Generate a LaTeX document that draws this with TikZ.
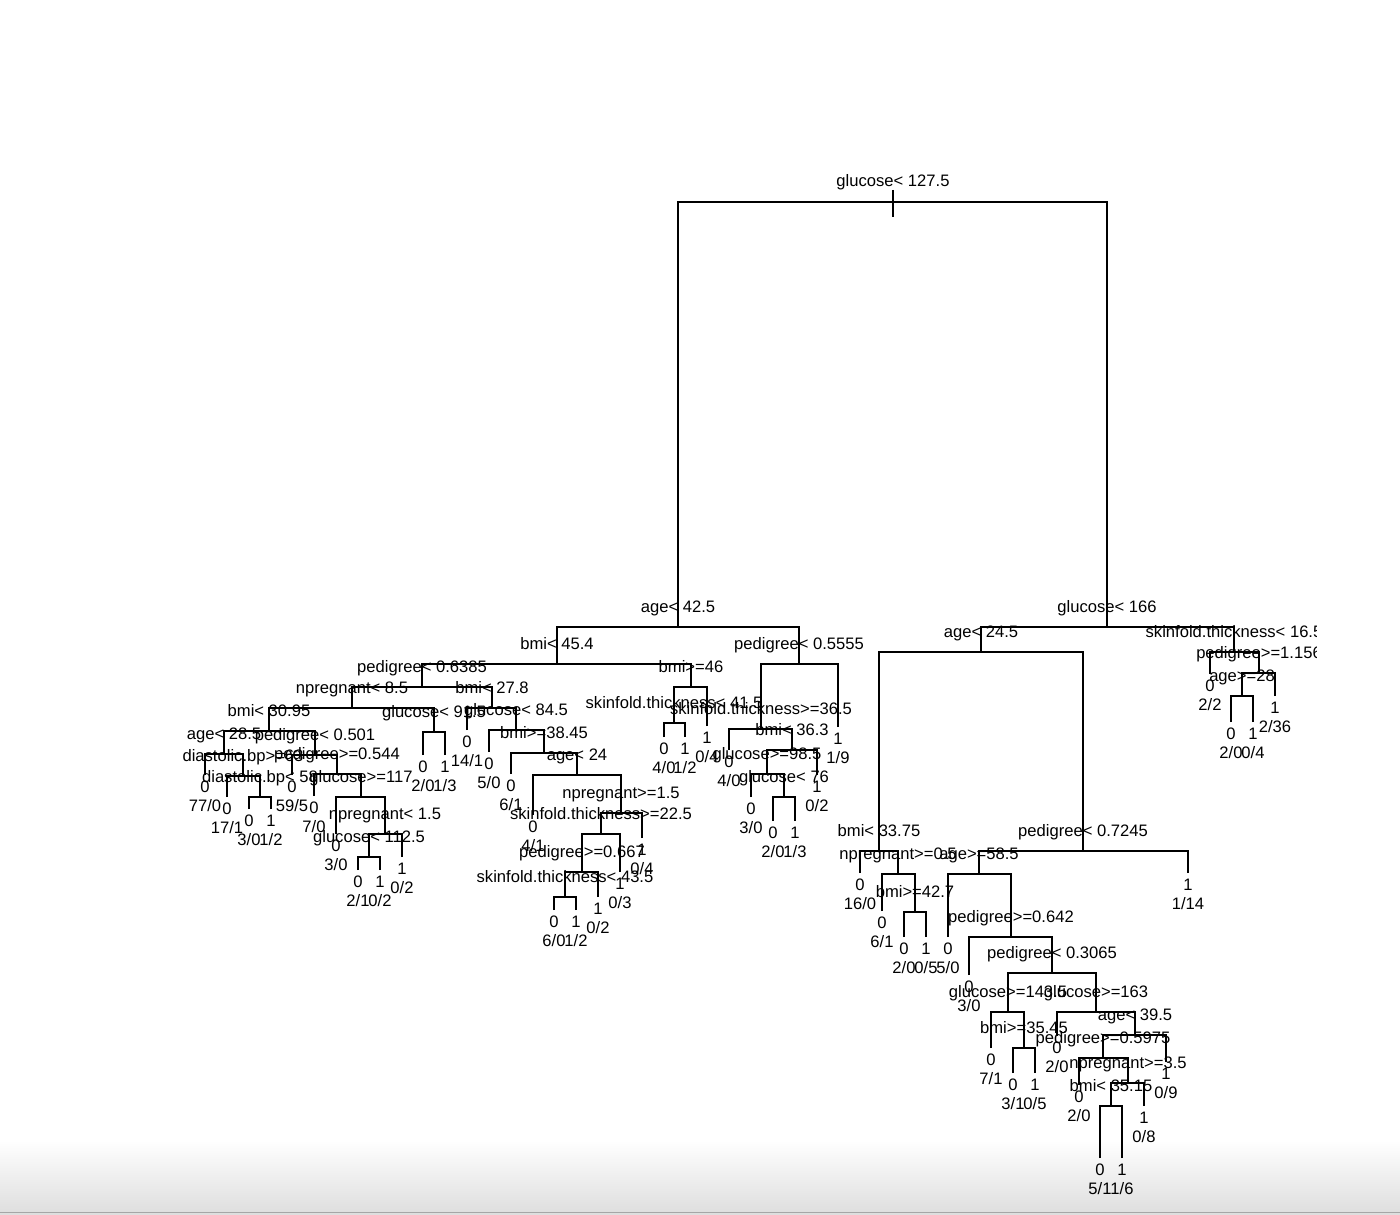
\documentclass[tikz,border=0pt]{standalone}
\usepackage{fontspec}
\setmainfont{Liberation Sans}
\usetikzlibrary{positioning}

\tikzset{
  branch/.style={line width=1pt},
  splitlab/.style={anchor=base, inner sep=0pt, font=\fontsize{8.3}{9}\selectfont},
  leaflab/.style={anchor=base, inner sep=0pt, font=\fontsize{8.3}{9}\selectfont},
}
% split: name, x, y, test
\newcommand{\splitat}[4]{\coordinate (#1) at (#2,#3); \node[splitlab] (#1-lab) at (#2,#3-15) {#4};}
% leaf: name, x, y, class, counts
\newcommand{\leafat}[5]{\coordinate (#1) at (#2,#3);
  \node[leaflab] (#1-cls) at (#2,#3+17) {#4};
  \node[leaflab] (#1-n) at (#2,#3+36) {#5};}

\begin{document}
\begin{tikzpicture}[x=0.5pt,y=-0.5pt]
\useasboundingbox (0,0) rectangle (1400,1214);
\shade[top color=white, bottom color=black!13] (0,1140) rectangle (1400,1214);
\draw[black!35] (0,1212) -- (1400,1212);

\begin{scope}
\clip (0,0) rectangle (1316,1214);
% splits
\splitat{root}{893}{202}{glucose< 127.5}
\splitat{age425}{678}{627}{age< 42.5}
\splitat{glu166}{1107}{627}{glucose< 166}
\splitat{bmi454}{557}{664}{bmi< 45.4}
\splitat{ped5555}{799}{664}{pedigree< 0.5555}
\splitat{ped6385}{422}{687}{pedigree< 0.6385}
\splitat{bmi46}{691}{687}{bmi>=46}
\splitat{npr85}{352}{708}{npregnant< 8.5}
\splitat{bmi278}{492}{708}{bmi< 27.8}
\splitat{bmi3095}{269}{731}{bmi< 30.95}
\splitat{glu915}{434}{732}{glucose< 91.5}
\splitat{age285}{224}{754}{age< 28.5}
\splitat{ped501}{315}{755}{pedigree< 0.501}
\splitat{dbp63}{243}{776}{diastolic.bp>=63}
\splitat{dbp58}{260}{797}{diastolic.bp< 58}
\splitat{ped544}{337}{774}{pedigree>=0.544}
\splitat{glu117}{361}{797}{glucose>=117}
\splitat{npr15}{385}{834}{npregnant< 1.5}
\splitat{glu1125}{369}{857}{glucose< 112.5}
\splitat{glu845}{516}{730}{glucose< 84.5}
\splitat{bmi3845}{544}{753}{bmi>=38.45}
\splitat{age24}{577}{775}{age< 24}
\splitat{npr15b}{621}{813}{npregnant>=1.5}
\splitat{skin225}{601}{834}{skinfold.thickness>=22.5}
\splitat{ped667}{582}{872}{pedigree>=0.667}
\splitat{skin435}{565}{897}{skinfold.thickness< 43.5}
\splitat{skin415}{674}{723}{skinfold.thickness< 41.5}
\splitat{skin365}{761}{729}{skinfold.thickness>=36.5}
\splitat{bmi363}{792}{750}{bmi< 36.3}
\splitat{glu985}{767}{774}{glucose>=98.5}
\splitat{glu76}{784}{797}{glucose< 76}
\splitat{age245}{981}{652}{age< 24.5}
\splitat{skin165}{1234}{652}{skinfold.thickness< 16.5}
\splitat{ped1156}{1259}{673}{pedigree>=1.156}
\splitat{age28}{1242}{696}{age>=28}
\splitat{bmi3375}{879}{851}{bmi< 33.75}
\splitat{ped7245}{1083}{851}{pedigree< 0.7245}
\splitat{npr05}{898}{874}{npregnant>=0.5}
\splitat{bmi427}{915}{912}{bmi>=42.7}
\splitat{age585}{979}{874}{age>=58.5}
\splitat{ped642}{1011}{937}{pedigree>=0.642}
\splitat{ped3065}{1052}{973}{pedigree< 0.3065}
\splitat{glu1435}{1008}{1012}{glucose>=143.5}
\splitat{glu163}{1096}{1012}{glucose>=163}
\splitat{bmi3545}{1024}{1048}{bmi>=35.45}
\splitat{age395}{1135}{1035}{age< 39.5}
\splitat{ped5975}{1103}{1058}{pedigree>=0.5975}
\splitat{npr35}{1128}{1083}{npregnant>=3.5}
\splitat{bmi3515}{1111}{1106}{bmi< 35.15}

% leaves
\leafat{l1}{205}{775}{0}{77/0}
\leafat{l2}{227}{797}{0}{17/1}
\leafat{l3}{249}{809}{0}{3/0}
\leafat{l4}{271}{809}{1}{1/2}
\leafat{l5}{292}{775}{0}{59/5}
\leafat{l6}{314}{796}{0}{7/0}
\leafat{l7}{336}{834}{0}{3/0}
\leafat{l8}{358}{870}{0}{2/1}
\leafat{l9}{380}{870}{1}{0/2}
\leafat{l10}{402}{857}{1}{0/2}
\leafat{l11}{423}{755}{0}{2/0}
\leafat{l12}{445}{755}{1}{1/3}
\leafat{l13}{467}{730}{0}{14/1}
\leafat{l14}{489}{752}{0}{5/0}
\leafat{l15}{511}{774}{0}{6/1}
\leafat{l16}{533}{815}{0}{4/1}
\leafat{l17}{554}{910}{0}{6/0}
\leafat{l18}{576}{910}{1}{1/2}
\leafat{l19}{598}{897}{1}{0/2}
\leafat{l20}{620}{872}{1}{0/3}
\leafat{l21}{642}{838}{1}{0/4}
\leafat{l22}{664}{737}{0}{4/0}
\leafat{l23}{685}{737}{1}{1/2}
\leafat{l24}{707}{726}{1}{0/4}
\leafat{l25}{729}{750}{0}{4/0}
\leafat{l26}{751}{797}{0}{3/0}
\leafat{l27}{773}{821}{0}{2/0}
\leafat{l28}{795}{821}{1}{1/3}
\leafat{l29}{817}{775}{1}{0/2}
\leafat{l30}{838}{727}{1}{1/9}
\leafat{l31}{860}{873}{0}{16/0}
\leafat{l32}{882}{911}{0}{6/1}
\leafat{l33}{904}{937}{0}{2/0}
\leafat{l34}{926}{937}{1}{0/5}
\leafat{l35}{948}{937}{0}{5/0}
\leafat{l36}{969}{975}{0}{3/0}
\leafat{l37}{991}{1048}{0}{7/1}
\leafat{l38}{1013}{1073}{0}{3/1}
\leafat{l39}{1035}{1073}{1}{0/5}
\leafat{l40}{1057}{1036}{0}{2/0}
\leafat{l41}{1079}{1085}{0}{2/0}
\leafat{l42}{1100}{1158}{0}{5/1}
\leafat{l43}{1122}{1158}{1}{1/6}
\leafat{l44}{1144}{1106}{1}{0/8}
\leafat{l45}{1166}{1062}{1}{0/9}
\leafat{l46}{1188}{873}{1}{1/14}
\leafat{l47}{1210}{674}{0}{2/2}
\leafat{l48}{1231}{722}{0}{2/0}
\leafat{l49}{1253}{722}{1}{0/4}
\leafat{l50}{1275}{696}{1}{2/36}

% branches, child to parent
\draw[branch] (root) ++(0,-12) -- ++(0,27);
\foreach \c/\p in {age425/root, glu166/root, bmi454/age425, ped5555/age425,
  ped6385/bmi454, bmi46/bmi454, npr85/ped6385, bmi278/ped6385,
  bmi3095/npr85, glu915/npr85, age285/bmi3095, ped501/bmi3095,
  l1/age285, dbp63/age285, l2/dbp63, dbp58/dbp63, l3/dbp58, l4/dbp58,
  l5/ped501, ped544/ped501, l6/ped544, glu117/ped544, l7/glu117, npr15/glu117,
  glu1125/npr15, l10/npr15, l8/glu1125, l9/glu1125, l11/glu915, l12/glu915,
  l13/bmi278, glu845/bmi278, l14/glu845, bmi3845/glu845, l15/bmi3845, age24/bmi3845,
  l16/age24, npr15b/age24, skin225/npr15b, l21/npr15b, ped667/skin225, l20/skin225,
  skin435/ped667, l19/ped667, l17/skin435, l18/skin435,
  skin415/bmi46, l24/bmi46, l22/skin415, l23/skin415,
  skin365/ped5555, l30/ped5555, l25/skin365, bmi363/skin365,
  glu985/bmi363, l29/bmi363, l26/glu985, glu76/glu985, l27/glu76, l28/glu76,
  age245/glu166, skin165/glu166, bmi3375/age245, ped7245/age245,
  l31/bmi3375, npr05/bmi3375, l32/npr05, bmi427/npr05, l33/bmi427, l34/bmi427,
  age585/ped7245, l46/ped7245, l35/age585, ped642/age585, l36/ped642, ped3065/ped642,
  glu1435/ped3065, glu163/ped3065, l37/glu1435, bmi3545/glu1435, l38/bmi3545, l39/bmi3545,
  l40/glu163, age395/glu163, ped5975/age395, l45/age395, l41/ped5975, npr35/ped5975,
  bmi3515/npr35, l44/npr35, l42/bmi3515, l43/bmi3515,
  l47/skin165, ped1156/skin165, age28/ped1156, l50/ped1156, l48/age28, l49/age28}
  \draw[branch] (\c) |- (\p);
\end{scope}
\end{tikzpicture}
\end{document}
